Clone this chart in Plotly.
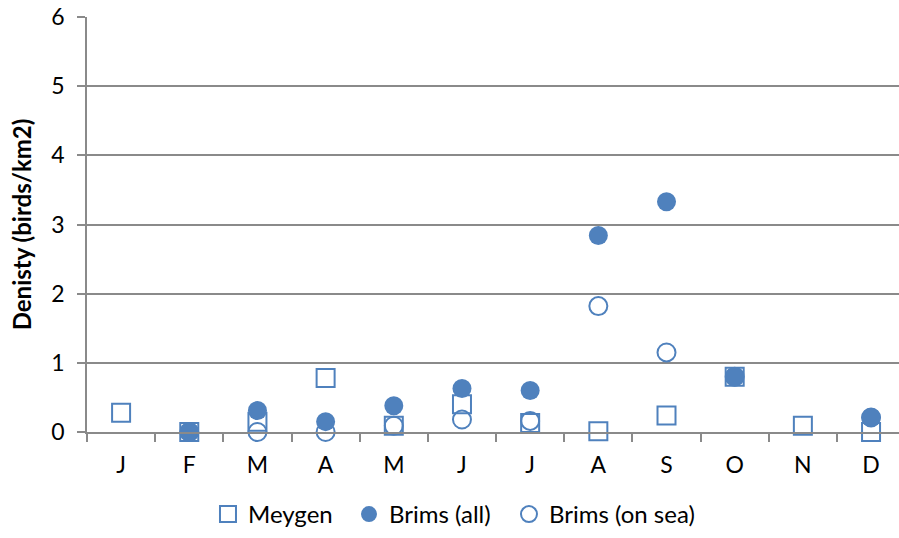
import plotly.graph_objects as go

months = ["J", "F", "M", "A", "M", "J", "J", "A", "S", "O", "N", "D"]
meygen = [0.28, 0.0, 0.15, 0.78, 0.09, 0.40, 0.13, 0.01, 0.24, 0.80, 0.09, 0.0]
brims_all = [None, 0.0, 0.31, 0.15, 0.38, 0.63, 0.60, 2.84, 3.33, 0.80, None, 0.21]
brims_sea = [None, 0.0, 0.0, 0.0, 0.09, 0.18, 0.16, 1.82, 1.15, 0.80, None, 0.21]
y_ticks = [0, 1, 2, 3, 4, 5, 6]

blue = "#4F81BD"
grid = "#8a8a8a"
xs = list(range(len(months)))

fig = go.Figure()
fig.add_trace(go.Scatter(
    x=xs, y=meygen, mode="markers", name="Meygen", legendrank=1, cliponaxis=False,
    legendwidth=96,
    marker=dict(symbol="square-open", size=18, color=blue, line=dict(width=2, color=blue)),
))
fig.add_trace(go.Scatter(
    x=xs, y=brims_sea, mode="markers", name="Brims (on sea)", legendrank=3, cliponaxis=False,
    marker=dict(symbol="circle-open", size=18, color=blue, line=dict(width=2, color=blue)),
))
fig.add_trace(go.Scatter(
    x=xs, y=brims_all, mode="markers", name="Brims (all)", legendrank=2, cliponaxis=False,
    legendwidth=115,
    marker=dict(symbol="circle", size=19, color=blue, line=dict(width=0)),
))

fig.update_layout(
    width=899, height=538,
    margin=dict(l=87, r=0, t=17, b=106),
    paper_bgcolor="white", plot_bgcolor="white",
    font=dict(family="Lato, Open Sans, sans-serif", size=23, color="#000000"),
    showlegend=True,
    legend=dict(
        orientation="h", x=0.149, xanchor="left", y=-0.253, yanchor="bottom",
        font=dict(size=24), itemwidth=30, traceorder="normal",
    ),
    xaxis=dict(
        range=[-0.5, 11.41], tickvals=xs, ticktext=months, ticks="",
        showgrid=False, zeroline=False, showline=True, linecolor=grid, linewidth=1.5,
        ticklabelstandoff=12, tickfont=dict(size=23), automargin=False,
        minor=dict(tickvals=[i - 0.5 for i in range(12)], ticks="outside",
                   ticklen=8, tickcolor=grid, tickwidth=1.5, showgrid=False),
    ),
    yaxis=dict(
        range=[0, 6], tickvals=y_ticks, ticks="outside", ticklen=8, tickcolor=grid,
        tickwidth=1.5, showgrid=True, gridcolor=grid, gridwidth=1.5,
        zeroline=False, showline=True, linecolor=grid, linewidth=1.5,
        ticklabelstandoff=8, tickfont=dict(size=23), automargin=False,
        title=dict(text="<b>Denisty (birds/km2)</b>", font=dict(size=24), standoff=13),
    ),
)

fig.write_html("out.html", config={"displayModeBar": False},
               post_script="document.body.style.margin='0';")
